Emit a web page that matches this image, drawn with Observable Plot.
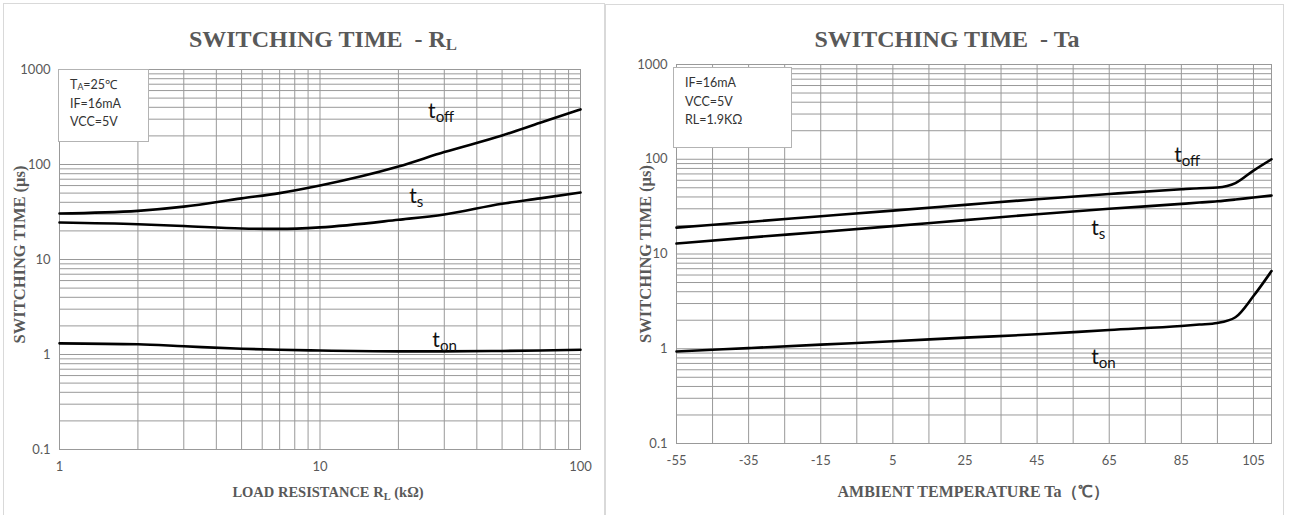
<!DOCTYPE html>
<html>
<head>
<meta charset="utf-8">
<script src="https://cdn.jsdelivr.net/npm/d3@7"></script>
<script src="https://cdn.jsdelivr.net/npm/@observablehq/plot@0.6"></script>
<style>
  html, body { margin: 0; padding: 0; background: #fff; }
  body { position: relative; width: 1290px; height: 515px; overflow: hidden; }
  .card { position: absolute; border: 1px solid #d9d9d9; box-sizing: border-box; background: #fff; }
  .title { position: absolute; transform: translateX(-50%); white-space: pre; font: bold 24px "Liberation Serif", serif; color: #595959; line-height: 1; }
  .title sub { font-size: 70%; vertical-align: -0.2em; line-height: 0; }
  .legend { position: absolute; background: #fff; border: 1px solid #b3b3b3; box-sizing: border-box; font: 12.5px Lato, sans-serif; color: #333; line-height: 18.5px; }
  .legend sub { font-size: 70%; vertical-align: -0.15em; line-height: 0; }
  svg.chart { position: absolute; overflow: visible; }
</style>
</head>
<body>
<div class="card" style="left:3px;top:3px;width:602px;height:520px;"></div>
<div class="card" style="left:605px;top:4px;width:679px;height:520px;"></div>
<div class="title" style="left:323px;top:27px;">SWITCHING TIME  - R<sub>L</sub></div>
<div class="title" style="left:947px;top:27px;">SWITCHING TIME  - Ta</div>
<script>
// ---------- data: left chart (switching time vs load resistance) ----------
const rlX    = [1, 2, 3, 5, 7, 10, 20, 30, 50, 70, 100];
const rlToff = [30.5, 32.5, 36, 44, 50, 60, 95, 135, 202, 275, 380];
const rlTs   = [24.5, 23.5, 22.5, 21.2, 21, 21.8, 26.2, 29.8, 38.6, 44, 50.7];
const rlTon  = [1.31, 1.28, 1.22, 1.15, 1.12, 1.1, 1.08, 1.08, 1.09, 1.1, 1.12];
const rlLabelText = ["t_{off}", "t_{s}", "t_{on}"];
const rlLabelX = [26, 22, 27];
const rlLabelY = [361, 46, 1.4];
const rlTicks = [1, 10, 100];

// ---------- data: right chart (switching time vs ambient temperature) ----------
const taX    = [-55, -35, -15, 5, 25, 45, 65, 85, 90, 95, 100, 105, 110];
const taToff = [19, 21.8, 25, 28.7, 33, 37.9, 43, 48.3, 49.5, 50.3, 56, 76, 100];
const taTs   = [12.9, 14.9, 17.1, 19.7, 22.8, 26.3, 30, 33.8, 34.9, 36, 37.6, 39.5, 41.4];
const taTon  = [0.935, 1.016, 1.105, 1.2, 1.31, 1.42, 1.58, 1.74, 1.8, 1.87, 2.15, 3.6, 6.6];
const taLabelText = ["t_{off}", "t_{s}", "t_{on}"];
const taLabelX = [83, 60, 60];
const taLabelY = [109, 18.6, 0.81];
const taTicks = [-55, -35, -15, 5, 25, 45, 65, 85, 105];

// ---------- shared axis values ----------
const yTicks = [0.1, 1, 10, 100, 1000];
const yGrid = [];
for (const d of [0.1, 1, 10, 100]) for (let k = 1; k <= 9; k++) yGrid.push(+(d * k).toPrecision(3));
yGrid.push(1000);
const rlGrid = [];
for (const d of [1, 10]) for (let k = 1; k <= 9; k++) rlGrid.push(d * k);
rlGrid.push(100);
const taGrid = d3.range(-55, 106, 10).concat([110]);

const GRID = "#999999";
const AXIS_TEXT = {fontFamily: "Liberation Serif, serif", fontWeight: "bold", fill: "#595959"};

function rows(xs, ys, s) { return xs.map((x, i) => ({x, y: ys[i], s})); }
function labelRows(t, xs, ys) { return t.map((text, i) => ({text, x: xs[i], y: ys[i]})); }

function applySubscripts(svg) {
  d3.select(svg).selectAll("text").each(function () {
    const s = this.textContent;
    if (!s.includes("_{")) return;
    const parts = s.split(/(_\{[^}]*\})/).filter(p => p);
    const sel = d3.select(this);
    sel.text(null);
    for (const p of parts) {
      const m = p.match(/^_\{([^}]*)\}$/);
      if (m) sel.append("tspan").attr("baseline-shift", "-25%").style("font-size", "0.72em").text(m[1]);
      else sel.append("tspan").text(p);
    }
  });
}

function chart({width, height, margins, x, data, labels, xGrid, xLabel, xLabelSize, xLabelDx, xLabelDy, yLabelDx, yLabelDy}) {
  const svg = Plot.plot({
    width, height,
    marginLeft: margins[0], marginRight: margins[1], marginTop: margins[2], marginBottom: margins[3],
    style: {background: "none", fontFamily: "Lato, sans-serif", fontSize: "13px", color: "#595959", overflow: "visible"},
    x: Object.assign({tickSize: 0, tickPadding: 12, label: null, tickFormat: d => String(d)}, x),
    y: {type: "log", domain: [0.1, 1000], ticks: yTicks, tickFormat: d => String(d), tickSize: 0, tickPadding: 9, label: null},
    marks: [
      Plot.ruleX(xGrid, {stroke: GRID, strokeWidth: 1}),
      Plot.ruleY(yGrid, {stroke: GRID, strokeWidth: 1}),
      Plot.frame({stroke: GRID}),
      Plot.line(data, {x: "x", y: "y", z: "s", stroke: "#000", strokeWidth: 2.6, curve: "monotone-x"}),
      Plot.text(labels, {x: "x", y: "y", text: "text", textAnchor: "start", lineAnchor: "middle", fontSize: 21, fontFamily: "Lato, sans-serif", fill: "#111"}),
      Plot.text([xLabel], {text: d => d, frameAnchor: "bottom", textAnchor: "middle", lineAnchor: "middle", dx: xLabelDx, dy: xLabelDy, fontSize: xLabelSize, ...AXIS_TEXT}),
      Plot.text(["SWITCHING TIME (μs)"], {text: d => d, frameAnchor: "left", textAnchor: "middle", lineAnchor: "middle", rotate: -90, dx: yLabelDx, dy: yLabelDy, fontSize: 16.5, ...AXIS_TEXT})
    ]
  });
  applySubscripts(svg);
  svg.classList.add("chart");
  return svg;
}

const leftSvg = chart({
  width: 604, height: 475, margins: [59, 24, 29, 66],
  x: {type: "log", domain: [1, 100], ticks: rlTicks},
  data: [...rows(rlX, rlToff, "toff"), ...rows(rlX, rlTs, "ts"), ...rows(rlX, rlTon, "ton")],
  labels: labelRows(rlLabelText, rlLabelX, rlLabelY),
  xGrid: rlGrid,
  xLabel: "LOAD RESISTANCE R_{L} (kΩ)", xLabelSize: 14.5, xLabelDx: 8, xLabelDy: 43,
  yLabelDx: -40, yLabelDy: -5
});
leftSvg.style.left = "0px"; leftSvg.style.top = "40px";
document.body.appendChild(leftSvg);

const rightSvg = chart({
  width: 678, height: 475, margins: [71, 12, 24, 72],
  x: {type: "linear", domain: [-55, 110], ticks: taTicks},
  data: [...rows(taX, taToff, "toff"), ...rows(taX, taTs, "ts"), ...rows(taX, taTon, "ton")],
  labels: labelRows(taLabelText, taLabelX, taLabelY),
  xGrid: taGrid,
  xLabel: "AMBIENT TEMPERATURE Ta（℃）", xLabelSize: 16, xLabelDx: -1, xLabelDy: 48,
  yLabelDx: -31, yLabelDy: 0
});
rightSvg.style.left = "605px"; rightSvg.style.top = "40px";
document.body.appendChild(rightSvg);
</script>
<div class="legend" style="left:58px;top:69px;width:91px;height:73px;padding:6px 0 0 11px;">T<sub>A</sub>=25℃<br>IF=16mA<br>VCC=5V</div>
<div class="legend" style="left:673px;top:67px;width:119px;height:81px;padding:6px 0 0 11px;">IF=16mA<br>VCC=5V<br>RL=1.9KΩ</div>
</body>
</html>
